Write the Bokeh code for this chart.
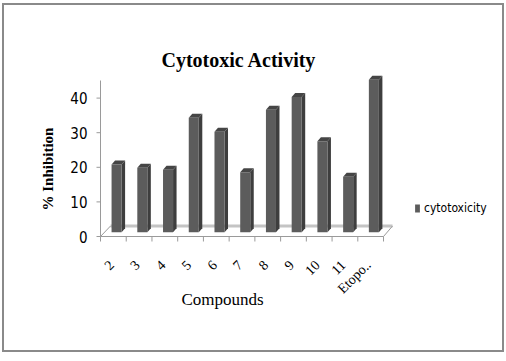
import math
from bokeh.plotting import figure
from bokeh.models import FixedTicker, Legend, LegendItem, ColumnDataSource, Range1d, Title, Label
from bokeh.core.properties import value
from bokeh.embed import file_html
from bokeh.resources import INLINE

# ---- data ----
compounds = ["2", "3", "4", "5", "6", "7", "8", "9", "10", "11", "Etopo.."]
inhibition = [20.8, 19.9, 19.3, 34.3, 30.3, 18.6, 36.6, 40.3, 27.5, 17.3, 45.3]
y_ticks = [0, 10, 20, 30, 40]
series_name = "cytotoxicity"
title_text = "Cytotoxic Activity"
x_title = "Compounds"
y_title = "% Inhibition"

# ---- layout (pixels) ----
W, H = 498, 345
BL, BR, BT, BB = 91, 4, 67, 20
FW = W - BL - BR
FH = H - BT - BB
PX_X = 25.73   # pixels per category
PX_Y = 3.46    # pixels per unit
ZERO_FROM_BOTTOM = 94   # pixels between frame bottom and the value 0
x0 = -5 / PX_X
y0 = -ZERO_FROM_BOTTOM / PX_Y
NARROW = "'Liberation Sans Narrow', 'DejaVu Sans Condensed', 'Liberation Sans'"

p = figure(width=W, height=H, output_backend="svg", toolbar_location=None,
           x_range=Range1d(x0, x0 + FW / PX_X), y_range=Range1d(y0, y0 + FH / PX_Y),
           x_axis_location=None,
           min_border_left=BL, min_border_right=BR, min_border_top=BT, min_border_bottom=BB)
p.styles = {"margin-left": "4px", "margin-top": "5px",
            "outline": "2px solid #8a8a8a", "outline-offset": "0px"}
p.background_fill_color = "white"
p.border_fill_color = "white"
p.outline_line_color = None
p.xgrid.visible = False
p.ygrid.visible = False

n = len(compounds)
idx = list(range(n))
FRONT_L, FRONT_R = 0.43, 0.82
DX = 3.5 / PX_X
DY = 4.0 / PX_Y
BASE = 4.3 / PX_Y
FLOOR_DX = 10 / PX_X
FLOOR_DY = 10.5 / PX_Y
TICK_LEN = 5 / PX_Y

# floor
p.line(x=[FLOOR_DX, n + FLOOR_DX * 0.9], y=[FLOOR_DY, FLOOR_DY], line_color="#c4c4c4", line_width=3)
p.segment(x0=[0, n], y0=[0, 0], x1=[FLOOR_DX, n + FLOOR_DX * 0.9], y1=[FLOOR_DY, FLOOR_DY],
          line_color="#9a9a9a", line_width=1)

# axis lines and ticks
p.segment(x0=[0], y0=[0], x1=[n], y1=[0], line_color="#9a9a9a", line_width=1)
p.segment(x0=idx + [n], y0=[0] * (n + 1), x1=idx + [n], y1=[-TICK_LEN] * (n + 1),
          line_color="#9a9a9a")
p.segment(x0=[0], y0=[0], x1=[0], y1=[156 / PX_Y], line_color="#9a9a9a")
p.segment(x0=[0] * len(y_ticks), y0=y_ticks, x1=[-4 / PX_X] * len(y_ticks), y1=y_ticks,
          line_color="#9a9a9a")

# category labels (rotated) below the category axis
p.text(x=[i + 0.5 - 2 / PX_X for i in idx], y=[-26 / PX_Y] * n, text=compounds,
       angle=math.pi / 4, text_align="right", text_baseline="middle",
       text_font=value("Liberation Serif"), text_font_size=value("14px"), text_color="black")

# 3D bars
left = [i + FRONT_L for i in idx]
right = [i + FRONT_R for i in idx]
src = ColumnDataSource(dict(left=left, right=right, top=inhibition, bottom=[BASE] * n))
side_xs = [[r, r + DX, r + DX, r] for r in right]
side_ys = [[BASE, BASE + DY, v + DY, v] for v in inhibition]
cap_xs = [[l, l + DX, r + DX, r] for l, r in zip(left, right)]
cap_ys = [[v, v + DY, v + DY, v] for v in inhibition]
p.patches(xs=side_xs, ys=side_ys, fill_color="#3e3e3e", line_color=None)
p.patches(xs=cap_xs, ys=cap_ys, fill_color="#454545", line_color=None)
front = p.quad(left="left", right="right", top="top", bottom="bottom", source=src,
               fill_color="#5c5c5c", line_color=None)

yax = p.yaxis[0]
yax.ticker = FixedTicker(ticks=y_ticks)
yax.axis_line_color = None
yax.major_tick_line_color = None
yax.minor_tick_line_color = None
yax.major_tick_out = 0
yax.major_tick_in = 0
yax.major_label_standoff = 8
yax.major_label_text_font = NARROW
yax.major_label_text_font_size = "15px"
yax.major_label_text_color = "black"

# titles
p.title.text = title_text
p.title.text_font = "Liberation Serif"
p.title.text_font_style = "bold"
p.title.text_font_size = "20px"
p.title.text_color = "black"
p.title.align = "left"
p.title.offset = 66
p.title.standoff = 4

p.add_layout(Title(text=y_title, align="left", offset=ZERO_FROM_BOTTOM + 26, standoff=24,
                   text_font="Liberation Serif", text_font_style="bold",
                   text_font_size="15px", text_color="black"), "left")
p.add_layout(Label(x=(222 - 100) / PX_X, y=-63 / PX_Y, text=x_title,
                   text_align="center", text_baseline="middle",
                   text_font="Liberation Serif", text_font_size="17px", text_color="black"))

legend = Legend(items=[LegendItem(label=series_name, renderers=[front])],
                location=(319, 115), glyph_width=6, glyph_height=10, label_height=10,
                label_standoff=4, padding=0, margin=0, border_line_color=None,
                background_fill_alpha=0, label_text_font=NARROW,
                label_text_font_size="12px", label_text_color="black")
p.add_layout(legend)

open("out.html", "w").write(file_html(p, INLINE))
